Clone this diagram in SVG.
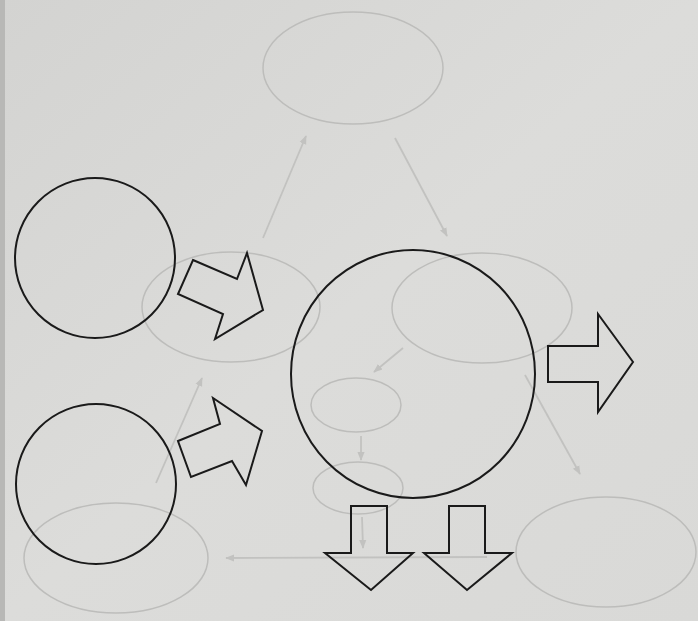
<svg xmlns="http://www.w3.org/2000/svg" width="698" height="621" viewBox="0 0 698 621">
  <defs>
    <style>
      .ghost { fill: none; stroke: #bdbdbb; stroke-width: 1.5; }
      .gline { fill: none; stroke: #c2c2c0; stroke-width: 1.8; }
      .ink { fill: none; stroke: #1a1a1a; stroke-width: 2; stroke-linejoin: miter; }
    </style>
    <linearGradient id="bg" x1="0" y1="0" x2="1" y2="1">
      <stop offset="0" stop-color="#d3d3d1"/>
      <stop offset="0.5" stop-color="#dcdcda"/>
      <stop offset="1" stop-color="#d9d9d7"/>
    </linearGradient>
    <marker id="gh" viewBox="0 0 10 10" refX="9" refY="5" markerWidth="5" markerHeight="5" orient="auto">
      <path d="M0,1 L10,5 L0,9 Z" fill="#c2c2c0"/>
    </marker>
  </defs>
  <rect width="698" height="621" fill="url(#bg)"/>
  <rect x="0" y="0" width="5" height="621" fill="#b8b8b6"/>

  <g id="ghost-nodes">
    <ellipse id="g-top" class="ghost" cx="353" cy="68" rx="90" ry="56"/>
    <ellipse id="g-left" class="ghost" cx="231" cy="307" rx="89" ry="55"/>
    <ellipse id="g-right" class="ghost" cx="482" cy="308" rx="90" ry="55"/>
    <ellipse id="g-small1" class="ghost" cx="356" cy="405" rx="45" ry="27"/>
    <ellipse id="g-small2" class="ghost" cx="358" cy="488" rx="45" ry="26"/>
    <ellipse id="g-bl" class="ghost" cx="116" cy="558" rx="92" ry="55"/>
    <ellipse id="g-br" class="ghost" cx="606" cy="552" rx="90" ry="55"/>
  </g>

  <g id="ghost-connectors">
    <line class="gline" x1="263" y1="238" x2="306" y2="136" marker-end="url(#gh)"/>
    <line class="gline" x1="395" y1="138" x2="447" y2="236" marker-end="url(#gh)"/>
    <line class="gline" x1="403" y1="348" x2="374" y2="372" marker-end="url(#gh)"/>
    <line class="gline" x1="361" y1="436" x2="361" y2="460" marker-end="url(#gh)"/>
    <line class="gline" x1="362" y1="517" x2="363" y2="548" marker-end="url(#gh)"/>
    <line class="gline" x1="525" y1="375" x2="580" y2="474" marker-end="url(#gh)"/>
    <line class="gline" x1="487" y1="557" x2="226" y2="558" marker-end="url(#gh)"/>
    <line class="gline" x1="156" y1="483" x2="202" y2="378" marker-end="url(#gh)"/>
  </g>

  <g id="circle-top-left">
    <ellipse class="ink" cx="95" cy="258" rx="80" ry="80"/>
  </g>
  <g id="circle-bottom-left">
    <ellipse class="ink" cx="96" cy="484" rx="80" ry="80"/>
  </g>
  <g id="circle-center">
    <ellipse class="ink" cx="413" cy="374" rx="122" ry="124"/>
  </g>

  <g id="connectors">
    <polygon id="arrow-upper" class="ink" points="193,260 237,279 247,253 263,310 215,339 223,314 178,294"/>
    <polygon id="arrow-lower" class="ink" points="178,441 220,424 213,398 262,431 246,485 232,461 191,477"/>
    <polygon id="arrow-right" class="ink" points="548,346 598,346 598,314 633,362 598,412 598,382 548,382"/>
    <polygon id="arrow-down1" class="ink" points="351,506 387,506 387,553 413,553 371,590 325,553 351,553"/>
    <polygon id="arrow-down2" class="ink" points="449,506 485,506 485,553 512,553 467,590 424,553 449,553"/>
  </g>
</svg>
